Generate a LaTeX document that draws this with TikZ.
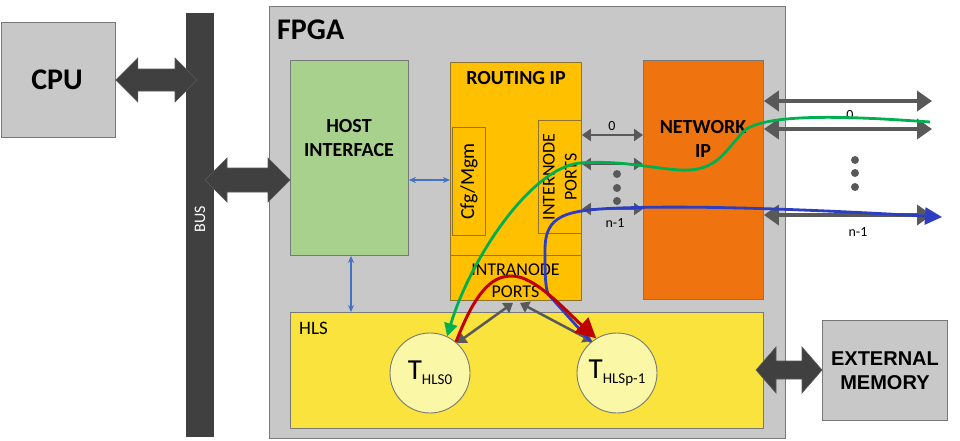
\documentclass[tikz,border=0pt]{standalone}
\usepackage{fontspec}
\setmainfont{Carlito}
\newfontfamily\arialfont{Liberation Sans}
\usetikzlibrary{arrows.meta,calc}
\definecolor{boxgray}{RGB}{200,200,200}
\definecolor{edgegray}{RGB}{120,120,120}
\definecolor{busdark}{RGB}{64,64,64}
\definecolor{hostgreen}{RGB}{169,209,142}
\definecolor{routeorange}{RGB}{255,192,0}
\definecolor{routeedge}{RGB}{140,115,50}
\definecolor{netorange}{RGB}{239,115,15}
\definecolor{hlsyellow}{RGB}{250,227,60}
\definecolor{circyellow}{RGB}{250,247,166}
\definecolor{arrowgray}{RGB}{89,89,89}
\definecolor{linkblue}{RGB}{68,114,196}
\definecolor{pathgreen}{RGB}{0,176,80}
\definecolor{pathred}{RGB}{192,0,0}
\definecolor{pathblue}{RGB}{46,62,192}
\newcommand\fatdbl[5]{%
  \fill[busdark, draw=arrowgray, line width=0.6pt] let \p1=(#1), \p2=(#2) in
  (\x1,\y1) -- (\x1+#3,\y1+#4) -- (\x1+#3,\y1+#5) -- (\x2-#3,\y1+#5) -- (\x2-#3,\y1+#4)
  -- (\x2,\y1) -- (\x2-#3,\y1-#4) -- (\x2-#3,\y1-#5) -- (\x1+#3,\y1-#5) -- (\x1+#3,\y1-#4) -- cycle;}
\tikzset{
  box/.style={draw=edgegray, line width=0.9pt, inner sep=0pt, anchor=north west},
  boldlbl/.style={font=\fontsize{20}{24}\selectfont\bfseries, align=center, inner sep=0pt},
  plainlbl/.style={font=\fontsize{18}{22}\selectfont, align=center, inner sep=0pt},
  numlbl/.style={font=\fontsize{14}{16}\selectfont, inner sep=0pt},
  task/.style={circle, draw=edgegray, line width=0.9pt, fill=circyellow, minimum size=80pt, inner sep=0pt},
  midarrow/.style={arrowgray, line width=2.5pt, {Triangle[length=9pt,width=12pt]}-{Triangle[length=9pt,width=12pt]}},
  outarrow/.style={arrowgray, line width=4pt, {Triangle[length=15pt,width=20pt]}-{Triangle[length=15pt,width=20pt]}},
  thinlink/.style={linkblue, line width=1.2pt, {Stealth[length=7pt,width=6pt]}-{Stealth[length=7pt,width=6pt]}},
  dotmark/.style={circle, fill=arrowgray, minimum size=8pt, inner sep=0pt}
}
\begin{document}
\begin{tikzpicture}[x=1pt,y=-1pt]
\useasboundingbox (0,0) rectangle (960,440);
\fill[white] (0,0) rectangle (960,440);

% main boxes
\node[box, fill=boxgray, minimum width=114pt, minimum height=115pt] (cpu) at (1,22) {};
\node[font=\fontsize{30}{34}\selectfont\bfseries, inner sep=0pt] (cputxt) at (57,80) {CPU};
\node[box, fill=boxgray, minimum width=516pt, minimum height=432pt] (fpga) at (269,6) {};
\node[font=\fontsize{30}{34}\selectfont\bfseries, inner sep=0pt, anchor=west] (fpgatxt) at (277,30) {FPGA};
\node[box, draw=busdark, fill=busdark, minimum width=27pt, minimum height=423pt] (bus) at (186,13) {};
\node[font=\fontsize{16}{18}\selectfont, text=white, rotate=90, inner sep=0pt] (bustxt) at (200,219) {BUS};

\node[box, fill=hostgreen, minimum width=118pt, minimum height=195pt] (host) at (290,60) {};
\node[boldlbl] (hosttxt) at (349,138) {HOST\\INTERFACE};

\node[box, draw=routeedge, fill=routeorange, minimum width=131pt, minimum height=238pt] (routing) at (450,62) {};
\node[boldlbl] (routtxt) at (516,78) {ROUTING IP};
\node[box, draw=routeedge, fill=routeorange, minimum width=33pt, minimum height=108pt] (cfg) at (452,127) {};
\node[font=\fontsize{20}{24}\selectfont, inner sep=0pt, rotate=90] (cfgtxt) at (cfg.center) {Cfg/Mgm};
\node[box, draw=routeedge, fill=routeorange, minimum width=43pt, minimum height=113pt] (inter) at (538,120) {};
\node[plainlbl, rotate=90] (intertxt) at (inter.center) {INTERNODE\\PORTS};
\node[box, draw=routeedge, fill=routeorange, minimum width=131pt, minimum height=45pt] (intra) at (450,255) {};
\node[plainlbl] (intratxt) at (515.5,281) {INTRANODE\\PORTS};

\node[box, fill=netorange, minimum width=120pt, minimum height=239pt] (net) at (643,60) {};
\node[boldlbl] (nettxt) at (703,139) {NETWORK\\IP};

\node[box, fill=hlsyellow, minimum width=473pt, minimum height=116pt] (hls) at (290,312) {};
\node[font=\fontsize{19}{22}\selectfont, inner sep=0pt, anchor=west] (hlstxt) at (299,328) {HLS};

\node[task] (t0) at (430,373) {\fontsize{29}{30}\selectfont T\raisebox{-5pt}{\fontsize{15}{16}\selectfont HLS0}};
\node[task] (tp) at (617,373) {\fontsize{29}{30}\selectfont T\raisebox{-5pt}{\fontsize{15}{16}\selectfont HLSp-1}};

\node[box, fill=boxgray, minimum width=125pt, minimum height=100pt] (mem) at (822,320) {};
\node[font=\fontsize{20}{24}\selectfont\arialfont\bfseries, align=center, inner sep=0pt] (memtxt) at (mem.center) {EXTERNAL\\MEMORY};

% fat arrows
\coordinate (cpubus) at (197,80);
\fatdbl{cpu.east |- cpubus}{cpubus}{22}{22}{11}
\coordinate (bushost) at (205,180);
\fatdbl{bushost}{host.west |- bushost}{22}{22}{12}
\coordinate (hlsmem) at (756,370);
\fatdbl{hlsmem}{mem.west |- hlsmem}{20}{23}{9}

% thin blue links
\coordinate (hr) at (0,180);
\draw[thinlink] (host.east |- hr) -- (routing.west |- hr);
\coordinate (hh) at (351,0);
\draw[thinlink] (host.south -| hh) -- (hls.north -| hh);

% routing <-> network
\coordinate (ya) at (0,135);
\coordinate (yb) at (0,164);
\coordinate (yc) at (0,209);
\draw[midarrow] (routing.east |- ya) -- (net.west |- ya);
\draw[midarrow] (routing.east |- yb) -- (net.west |- yb);
\draw[midarrow] (routing.east |- yc) -- (net.west |- yc);
\node[numlbl] (m0) at (612,126) {0};
\node[numlbl] (mn) at (615,223) {n-1};
\node[dotmark] (md1) at (617,174) {};
\node[dotmark] (md2) at (617,188) {};
\node[dotmark] (md3) at (617,201) {};

% network outputs
\coordinate (oa) at (932,101);
\coordinate (ob) at (932,129);
\coordinate (oc) at (932,215);
\draw[outarrow] (net.east |- oa) -- (oa);
\draw[outarrow] (net.east |- ob) -- (ob);
\draw[outarrow] (net.east |- oc) -- (oc);
\node[numlbl] (o0) at (850,115) {0};
\node[numlbl] (on) at (858,232) {n-1};
\node[dotmark] (od1) at (855,160) {};
\node[dotmark] (od2) at (855,173) {};
\node[dotmark] (od3) at (855,187) {};

% intranode to tasks
\draw[midarrow] ($(intra.south)+(-3,2)$) -- (t0.48);
\draw[midarrow] ($(intra.south)+(4,2)$) -- (tp.128);

% paths
\coordinate (gstart) at (930,122);
\draw[pathgreen, line width=2.8pt, -{Triangle[length=13pt,width=13pt]}]
  (gstart) .. controls (860,117) and (770,112) .. (745,130)
  .. controls (725,150) and (718,172) .. (680,170)
  .. controls (650,168) and (620,160) .. (580,163)
  .. controls (530,168) and (470,260) .. (t0.65);
\coordinate (bend) at (942,217);
\draw[pathblue, line width=2.8pt, -{Triangle[length=17pt,width=17pt]}]
  (tp.130) -- (548,294) .. controls (545,286) and (545,270) .. (545,250)
  .. controls (545,215) and (565,210) .. (620,208)
  .. controls (700,205) and (820,210) .. (bend);
\draw[pathred, line width=3pt, -{Triangle[length=20pt,width=20pt]}]
  (t0.50) .. controls (478,285) and (495,276) .. (512,276)
  .. controls (535,276) and (565,310) .. (tp.121);
\end{tikzpicture}
\end{document}
